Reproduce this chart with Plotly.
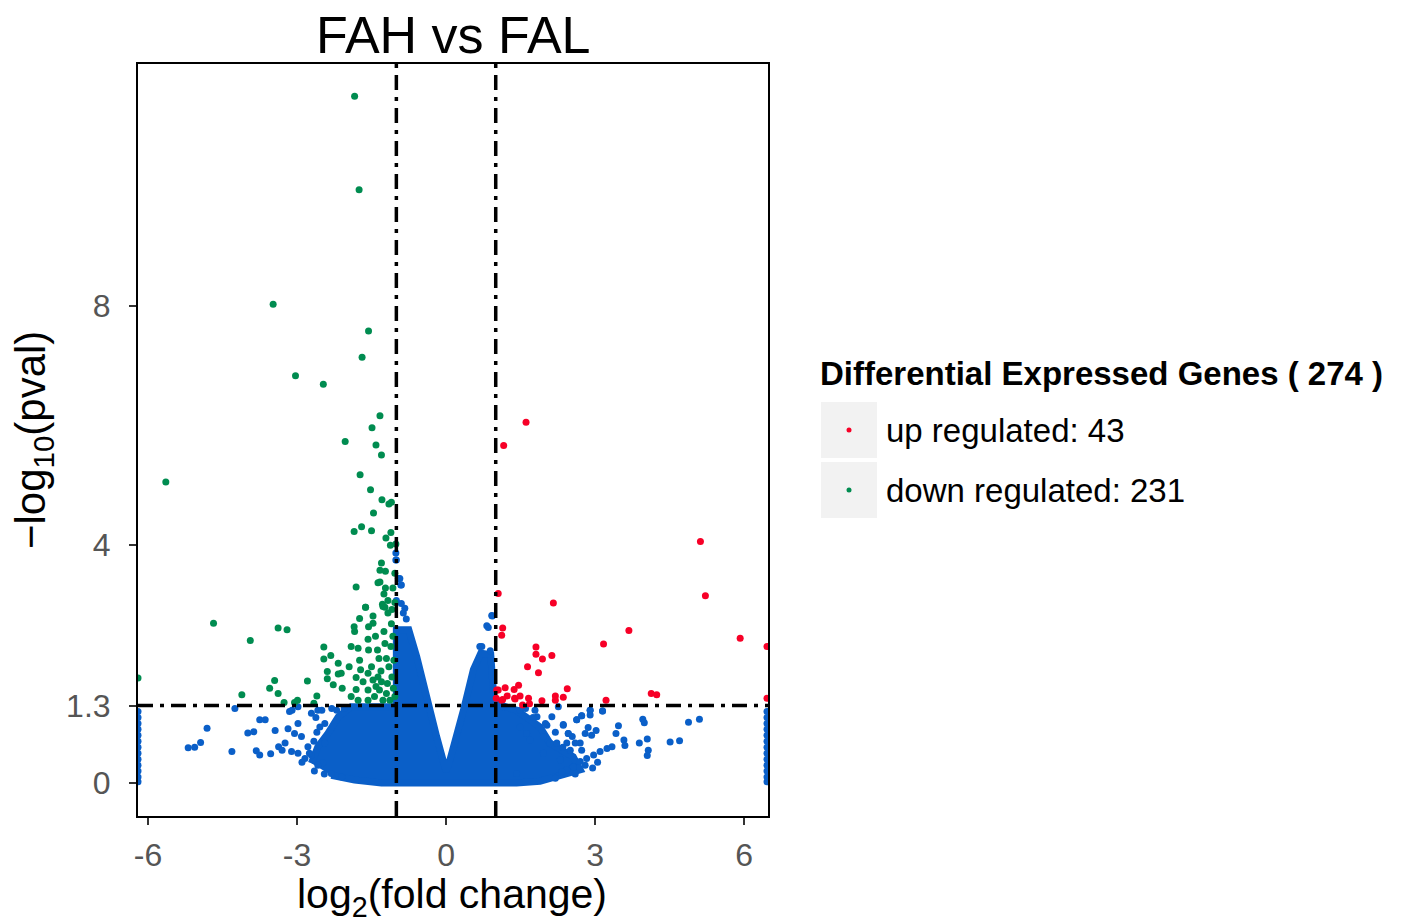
import plotly.graph_objects as go

# ---------------- data ----------------
fc_thresholds = [-1, 1]
p_threshold = 1.3

# dense blue cloud outline (log2FC, -log10 p)
cloud_x = [-2.71, -2.58, -2.38, -2.17, -1.91, -1.0, -1.0, -0.75, -0.59, -0.39, -0.19, 0.0,
           0.08, 0.35, 0.55, 0.70, 0.90, 0.97, 1.42, 1.89, 2.09, 2.56, 2.70, 1.89, 1.42,
           -1.30, -1.84, -2.31]
cloud_y = [0.33, 0.61, 0.83, 1.11, 1.28, 1.28, 2.57, 2.57, 2.12, 1.39, 0.78, 0.20,
           0.39, 1.22, 1.90, 2.18, 2.15, 1.34, 1.22, 0.94, 0.67, 0.44, 0.22, 0.03, 0.0,
           0.0, 0.05, 0.13]

# scattered non-significant genes
ns_x = [-4.25, -4.81, -5.19, -5.06, -4.94, -4.31, -3.99, -3.87, -3.75, -3.64, -3.82, -3.75,
        -3.53, -3.44, -3.37, -3.30, -3.24, -3.18, -3.10, -2.98, -2.98, -3.05, -2.91, -2.78,
        -3.11, -2.98, -2.84, -2.71, -3.15, -2.71, -2.58, -2.44, -2.54, -2.44, -2.48, -2.58,
        -2.31,
        -2.62, -2.50, -2.30, -2.20, -2.05, -2.60, -2.66, -2.75, -2.90, -2.65, -2.45, -2.10,
        -1.01, -1.01, -0.96, -0.91, -1.0, -0.93, -0.90, -1.0, -0.90, -0.83, -0.80, -0.86,
        0.93, 0.82, 0.85, 0.89, 0.72, 0.92, 0.68, 1.15,
        1.49, 1.79, 1.83, 2.03, 2.13, 2.26, 2.36, 2.46, 2.63, 2.73, 2.90, 3.15, 2.09, 2.23,
        2.43, 1.96, 1.49, 1.62, 1.69, 1.96, 2.30, 2.56, 1.42,
        1.60, 1.75, 2.00, 2.20, 2.35, 2.50, 2.80, 2.95, 3.05, 2.60, 2.20,
        2.36, 2.46, 2.54, 2.63, 2.73, 2.90, 2.90, 2.86, 2.80, 2.93, 3.02, 3.15, 3.47, 3.42,
        3.58, 3.60, 3.89, 3.96, 3.99, 4.05, 4.07, 4.05, 4.51, 4.70, 4.88, 5.10, 3.34, 3.24,
        3.10, 2.97, 2.83, 2.70, 2.56, 2.43, 2.33, 2.70, 2.73, 2.60,
        -6.2, -6.2, -6.2, -6.2, -6.2, -6.2, -6.2, -6.2, -6.2, -6.2, -6.2, -6.2, -6.2,
        6.46, 6.46, 6.46, 6.46, 6.46, 6.46, 6.46, 6.46, 6.46, 6.46, 6.46, 6.46, 6.46]
ns_y = [1.25, 0.92, 0.59, 0.60, 0.68, 0.53, 0.84, 0.86, 1.06, 1.06, 0.54, 0.47,
        0.49, 0.88, 0.61, 0.55, 0.67, 0.91, 1.22, 1.28, 1.00, 0.83, 0.78, 0.61,
        0.53, 0.50, 0.41, 0.47, 1.20, 1.17, 1.22, 1.00, 0.94, 0.67, 0.34, 0.30,
        0.16,
        1.10, 1.22, 1.25, 1.22, 1.25, 0.85, 0.70, 0.50, 0.35, 0.20, 0.15, 0.10,
        3.86, 3.74, 3.43, 3.32, 3.06, 3.43, 3.32, 3.74, 3.01, 2.93, 2.75, 2.85,
        2.80, 2.64, 2.61, 2.22, 2.29, 2.81, 2.29, 1.28,
        1.22, 1.22, 1.11, 0.97, 1.11, 1.28, 0.97, 0.83, 1.06, 1.13, 1.22, 1.21, 0.67, 0.67,
        0.67, 0.78, 0.94, 0.83, 0.72, 0.50, 0.39, 0.27, 0.16,
        1.25, 1.10, 1.00, 0.85, 0.60, 0.55, 0.30, 0.25, 0.35, 0.15, 0.08,
        0.98, 0.83, 0.78, 1.06, 1.13, 1.22, 1.14, 0.93, 0.83, 0.80, 0.88, 1.21, 0.96, 0.83,
        0.72, 0.63, 0.67, 1.07, 1.01, 0.74, 0.55, 0.46, 0.69, 0.71, 1.02, 1.07, 0.61, 0.58,
        0.53, 0.47, 0.41, 0.36, 0.27, 0.22, 0.19, 0.67, 0.55, 0.67,
        0.02, 0.1, 0.2, 0.3, 0.4, 0.5, 0.6, 0.7, 0.8, 0.9, 1.0, 1.1, 1.2,
        0.02, 0.1, 0.2, 0.3, 0.4, 0.5, 0.6, 0.7, 0.8, 0.9, 1.0, 1.1, 1.2]

# down regulated genes
down_x = [-1.84, -1.75, -3.48, -1.56, -1.69, -3.03, -2.47, -1.33, -1.49, -2.03, -1.41, -1.30,
          -5.64, -1.73, -1.52, -1.29, -1.15, -1.10, -1.46, -1.70, -1.85, -1.50, -1.11, -1.21,
          -1.12, -1.01, -1.30, -1.33, -1.22, -1.03, -1.37, -1.33, -1.81, -1.22, -1.07, -1.25,
          -1.17, -1.28, -1.62, -1.23, -1.09,
          -4.68, -3.94, -3.38, -3.20, -4.11, -3.45, -3.55, -3.38, -3.26, -3.05, -2.99, -2.79,
          -2.66, -2.60, -2.46, -2.46, -2.39, -2.39, -2.32, -2.27, -2.17, -2.17, -2.11, -2.09,
          -1.95, -1.91, -1.85, -1.84, -1.81, -1.81, -1.74, -1.77, -1.74, -1.72, -1.67, -1.62,
          -1.57, -1.56, -1.56, -1.50, -1.47, -1.47, -1.42, -1.38, -1.37, -1.35, -1.34, -1.31,
          -1.27, -1.25, -1.23, -1.20, -1.20, -1.18, -1.17, -1.15, -1.13, -1.11, -1.10, -1.09,
          -1.07, -1.06, -1.05, -1.03, -1.03, -1.44, -1.57, -1.77, -1.27, -1.91, -1.57, -1.47,
          -1.30, -1.57, -1.41, -6.2]
down_y = [11.52, 9.95, 8.03, 7.58, 7.14, 6.83, 6.69, 6.16, 5.96, 5.73, 5.67, 5.50,
          5.05, 5.17, 4.92, 4.75, 4.68, 4.71, 4.53, 4.30, 4.22, 4.23, 4.20, 4.11,
          3.99, 4.01, 3.69, 3.57, 3.55, 3.52, 3.36, 3.37, 3.29, 3.27, 3.27, 3.17,
          3.06, 3.00, 2.95, 2.95, 2.91,
          2.68, 2.39, 2.60, 2.57, 1.48, 1.72, 1.59, 1.50, 1.35, 1.35, 1.39, 1.71,
          1.34, 1.46, 2.28, 2.08, 1.87, 1.75, 2.14, 1.65, 2.01, 1.83, 1.84, 1.59,
          1.95, 2.29, 2.62, 2.54, 1.77, 1.57, 2.76, 2.26, 2.06, 1.90, 1.70, 2.95,
          2.41, 2.23, 2.62, 1.95, 2.80, 2.68, 2.46, 2.23, 1.78, 2.09, 1.56, 1.88,
          2.96, 2.54, 2.34, 2.09, 1.50, 1.67, 2.85, 1.95, 1.39, 2.29, 2.67, 1.78,
          2.46, 1.59, 2.06, 3.03, 1.45, 1.45, 1.39, 1.39, 1.39, 1.45, 1.56, 1.73,
          1.70, 1.84, 1.62, 1.76]

# up regulated genes
up_x = [1.61, 1.16, 5.12, 5.22, 1.05, 2.16, 3.68, 3.17, 1.14, 1.12, 1.81, 1.81, 1.94, 2.13,
        1.64, 1.86, 1.46, 1.37, 1.19, 1.05, 1.49, 1.38, 1.23, 1.14, 1.01, 2.44, 2.20, 2.36,
        2.20, 1.93, 3.22, 4.13, 4.24, 1.68, 1.54, 5.92, 6.46, 6.46, 1.66, 1.12, 1.02, 1.39]
up_y = [6.05, 5.66, 4.05, 3.14, 3.18, 3.02, 2.56, 2.33, 2.60, 2.48, 2.28, 2.16, 2.08, 2.14,
        1.95, 1.85, 1.64, 1.57, 1.60, 1.56, 1.46, 1.42, 1.46, 1.40, 1.42, 1.58, 1.46, 1.44,
        1.39, 1.38, 1.39, 1.50, 1.48, 1.33, 1.31, 2.43, 2.29, 1.42, 1.42, 1.39, 1.56, 1.41]

x_ticks = [-6, -3, 0, 3, 6]
x_tick_text = ["-6", "-3", "0", "3", "6"]
y_ticks = [0, 1.3, 4, 8]
y_tick_text = ["0", "1.3", "4", "8"]

n_up = 43
n_down = 231

BLUE = "#0A5FC8"
GREEN = "#008C50"
RED = "#F70027"
FONT = "Liberation Sans"

fig = go.Figure()

fig.add_trace(go.Scatter(x=cloud_x, y=cloud_y, mode="lines", fill="toself",
                         fillcolor=BLUE, line=dict(color=BLUE, width=7),
                         hoverinfo="skip", showlegend=False))
fig.add_trace(go.Scatter(x=ns_x, y=ns_y, mode="markers",
                         marker=dict(color=BLUE, size=7), showlegend=False))
fig.add_trace(go.Scatter(x=down_x, y=down_y, mode="markers",
                         marker=dict(color=GREEN, size=7), showlegend=False))
fig.add_trace(go.Scatter(x=up_x, y=up_y, mode="markers",
                         marker=dict(color=RED, size=7), showlegend=False))

dash = "15px,7px,4px,7px"
for t in fc_thresholds:
    fig.add_shape(type="line", xref="x", yref="paper", x0=t, x1=t, y0=0, y1=1,
                  line=dict(color="black", width=3.5, dash=dash), layer="above")
fig.add_shape(type="line", xref="paper", yref="y", x0=0, x1=1, y0=p_threshold, y1=p_threshold,
              line=dict(color="black", width=3.5, dash=dash), layer="above")

# page body has an 8px margin; plot area targets px 138..768 x 64..816
OFF = 8
W, H = 1401 - OFF, 918 - OFF
L, R, T, B = 138, 768, 64, 816
def px(xp):
    return (xp - L) / (R - L)
def py(yp):
    return (B - yp) / (B - T)

for (y0, y1) in [(402, 458), (462, 518)]:
    fig.add_shape(type="rect", xref="paper", yref="paper", x0=px(821), x1=px(877),
                  y0=py(y1), y1=py(y0), fillcolor="#F2F2F2", line=dict(width=0))
for (yc, col) in [(430, RED), (490, GREEN)]:
    fig.add_shape(type="circle", xref="paper", yref="paper", xsizemode="pixel",
                  ysizemode="pixel", xanchor=px(849), yanchor=py(yc),
                  x0=-2.5, x1=2.5, y0=-2.5, y1=2.5, fillcolor=col, line=dict(width=0))

fig.add_annotation(x=px(818), y=py(373), xref="paper", yref="paper", showarrow=False,
                   xanchor="left", yanchor="middle",
                   text=f"<b>Differential Expressed Genes ( {n_up + n_down} )</b>",
                   font=dict(family=FONT, size=33, color="black"))
fig.add_annotation(x=px(884), y=py(431), xref="paper", yref="paper", showarrow=False,
                   xanchor="left", yanchor="middle", text=f"up regulated: {n_up}",
                   font=dict(family=FONT, size=33, color="black"))
fig.add_annotation(x=px(884), y=py(491), xref="paper", yref="paper", showarrow=False,
                   xanchor="left", yanchor="middle", text=f"down regulated: {n_down}",
                   font=dict(family=FONT, size=33, color="black"))

# axis titles and plot title
fig.add_annotation(x=px(452), y=py(897), xref="paper", yref="paper", showarrow=False,
                   xanchor="center", yanchor="middle", text="log<sub>2</sub>(fold change)",
                   font=dict(family=FONT, size=41, color="black"))
fig.add_annotation(x=px(33), y=py(440), xref="paper", yref="paper", showarrow=False,
                   xanchor="center", yanchor="middle", textangle=-90,
                   text="−log<sub>10</sub>(pval)",
                   font=dict(family=FONT, size=42, color="black"))
fig.add_annotation(x=px(453), y=py(35), xref="paper", yref="paper", showarrow=False,
                   xanchor="center", yanchor="middle", text="FAH vs FAL",
                   font=dict(family=FONT, size=52, color="black"))

fig.update_layout(
    width=W, height=H,
    margin=dict(l=L - OFF, r=(W + OFF) - R, t=T - OFF, b=(H + OFF) - B, autoexpand=False),
    paper_bgcolor="white", plot_bgcolor="white",
    showlegend=False,
    font=dict(family=FONT),
)
fig.update_xaxes(range=[-6.2, 6.48], tickvals=x_ticks, ticktext=x_tick_text,
                 ticks="outside", ticklen=7, ticklabelstandoff=3,
                 tickwidth=2, tickcolor="#333333", showgrid=False, zeroline=False,
                 showline=True, mirror=True, linecolor="black", linewidth=2,
                 tickfont=dict(family=FONT, size=32, color="#555555"))
fig.update_yaxes(range=[-0.553, 12.06], tickvals=y_ticks, ticktext=y_tick_text,
                 ticks="outside", ticklen=7, ticklabelstandoff=12, tickwidth=2,
                 tickcolor="#333333",
                 showgrid=False, zeroline=False, showline=True, mirror=True,
                 linecolor="black", linewidth=2,
                 tickfont=dict(family=FONT, size=32, color="#555555"))

fig.write_html("out.html")
